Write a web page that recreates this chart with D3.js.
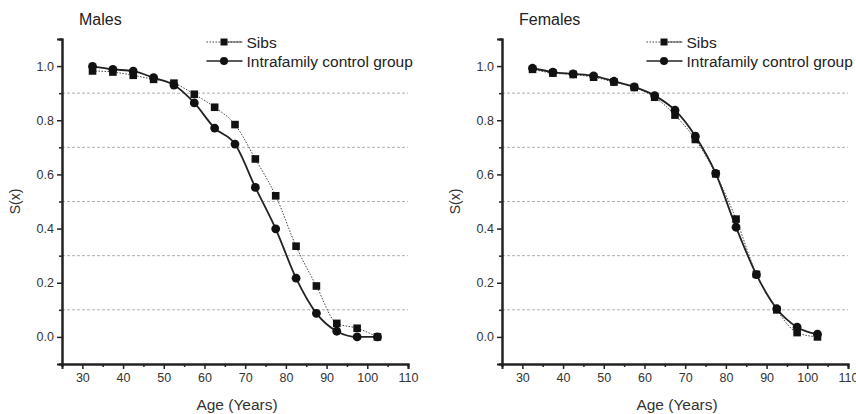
<!DOCTYPE html>
<html>
<head>
<meta charset="utf-8">
<script src="https://cdn.jsdelivr.net/npm/d3@7"></script>
<style>
  body { margin: 0; background: #fff; }
  svg { font-family: Arial, "Liberation Sans", sans-serif; }
  .tick text { font-size: 12.5px; fill: #333; }
  .grid { stroke: #b0b0b0; stroke-width: 1; stroke-dasharray: 3 2; }
</style>
</head>
<body>
<svg id="chart" width="856" height="414"></svg>
<script>
// ages at the midpoint of each 5 year class
const ages = [32.5, 37.5, 42.5, 47.5, 52.5, 57.5, 62.5, 67.5, 72.5, 77.5, 82.5, 87.5, 92.5, 97.5, 102.5];

const malesSibs = [0.982, 0.978, 0.966, 0.951, 0.937, 0.896, 0.848, 0.784, 0.657, 0.521, 0.335, 0.188, 0.050, 0.032, 0.0];
const malesControl = [0.999, 0.988, 0.981, 0.957, 0.930, 0.864, 0.771, 0.712, 0.552, 0.399, 0.217, 0.087, 0.021, 0.0, 0.0];

const femalesSibs = [0.988, 0.974, 0.969, 0.959, 0.941, 0.921, 0.885, 0.819, 0.729, 0.602, 0.435, 0.231, 0.100, 0.016, 0.0];
const femalesControl = [0.992, 0.978, 0.971, 0.964, 0.944, 0.923, 0.891, 0.837, 0.741, 0.604, 0.405, 0.230, 0.104, 0.036, 0.010];

const xTicks = [30, 40, 50, 60, 70, 80, 90, 100, 110];
const yTicks = [0.0, 0.2, 0.4, 0.6, 0.8, 1.0];
const gridValues = [0.1, 0.3, 0.5, 0.7, 0.9];
const seriesNames = ["Sibs", "Intrafamily control group"];

const svg = d3.select("#chart");

function drawPanel(left, title, sibs, control) {
    const g = svg.append("g");

    const x = d3.scaleLinear().domain([25, 110]).range([left, left + 346]);
    const y = d3.scaleLinear().domain([-0.1, 1.1]).range([364, 39]);

    // dotted reference lines
    g.selectAll(".grid")
        .data(gridValues)
        .enter().append("line")
        .attr("class", "grid")
        .attr("x1", x(25))
        .attr("x2", x(110))
        .attr("y1", d => y(d))
        .attr("y2", d => y(d));

    // axes, with minor ticks
    const xMinor = d3.axisBottom(x).tickValues(d3.range(25, 111, 10)).tickSize(3).tickFormat("");
    const yMinor = d3.axisLeft(y).tickValues([-0.1, 0.1, 0.3, 0.5, 0.7, 0.9, 1.1]).tickSize(3).tickFormat("");

    g.append("g").attr("transform", `translate(0,${y(-0.1)})`).call(xMinor);
    g.append("g").attr("transform", `translate(${x(25)},0)`).call(yMinor);

    g.append("g")
        .attr("transform", `translate(0,${y(-0.1)})`)
        .call(d3.axisBottom(x).tickValues(xTicks).tickSize(5).tickPadding(4));
    g.append("g")
        .attr("transform", `translate(${x(25)},0)`)
        .call(d3.axisLeft(y).tickValues(yTicks).tickSize(5).tickPadding(3).tickFormat(d3.format(".1f")));

    g.selectAll(".domain").attr("stroke", "#222").attr("stroke-width", 2);
    g.selectAll(".tick line").attr("stroke", "#222").attr("stroke-width", 1.5);

    // titles
    g.append("text")
        .attr("x", left + 17).attr("y", 25)
        .attr("font-size", 16).attr("fill", "#222")
        .text(title);

    g.append("text")
        .attr("x", x(68)).attr("y", 410)
        .attr("text-anchor", "middle")
        .attr("font-size", 15.5).attr("fill", "#333")
        .text("Age (Years)");

    g.append("text")
        .attr("transform", `translate(${left - 42},${y(0.5)}) rotate(-90)`)
        .attr("text-anchor", "middle")
        .attr("font-size", 14).attr("fill", "#333")
        .text("S(x)");

    const line = d3.line()
        .x((d, i) => x(ages[i]))
        .y(d => y(d))
        .curve(d3.curveMonotoneX);

    // sibs: dotted line with squares
    g.append("path")
        .datum(sibs)
        .attr("d", line)
        .attr("fill", "none")
        .attr("stroke", "#444")
        .attr("stroke-width", 1)
        .attr("stroke-dasharray", "1.5 1.5");

    // control: solid line with circles
    g.append("path")
        .datum(control)
        .attr("d", line)
        .attr("fill", "none")
        .attr("stroke", "#222")
        .attr("stroke-width", 1.8);

    g.selectAll(".sq")
        .data(sibs)
        .enter().append("rect")
        .attr("x", (d, i) => x(ages[i]) - 3.8)
        .attr("y", d => y(d) - 3.8)
        .attr("width", 7.6)
        .attr("height", 7.6)
        .attr("fill", "#111");

    g.selectAll(".dot")
        .data(control)
        .enter().append("circle")
        .attr("cx", (d, i) => x(ages[i]))
        .attr("cy", d => y(d))
        .attr("r", 4.4)
        .attr("fill", "#111");

    // legend
    const lx = x(60.5);
    const leg = g.append("g");
    leg.append("line")
        .attr("x1", lx).attr("x2", lx + 36).attr("y1", 42).attr("y2", 42)
        .attr("stroke", "#444").attr("stroke-dasharray", "1.5 1.5");
    leg.append("rect")
        .attr("x", lx + 14).attr("y", 38.5).attr("width", 7).attr("height", 7).attr("fill", "#111");
    leg.append("line")
        .attr("x1", lx + 21).attr("x2", lx + 36).attr("y1", 42).attr("y2", 42)
        .attr("stroke", "#444");
    leg.append("line")
        .attr("x1", lx).attr("x2", lx + 36).attr("y1", 61).attr("y2", 61)
        .attr("stroke", "#222").attr("stroke-width", 1.5);
    leg.append("circle")
        .attr("cx", lx + 17.5).attr("cy", 61).attr("r", 4).attr("fill", "#111");

    leg.selectAll("text")
        .data(seriesNames)
        .enter().append("text")
        .attr("x", lx + 40)
        .attr("y", (d, i) => 47.5 + i * 19)
        .attr("font-size", 15.5)
        .attr("fill", "#222")
        .text(d => d);
}

drawPanel(62, "Males", malesSibs, malesControl);
drawPanel(502, "Females", femalesSibs, femalesControl);
</script>
</body>
</html>
